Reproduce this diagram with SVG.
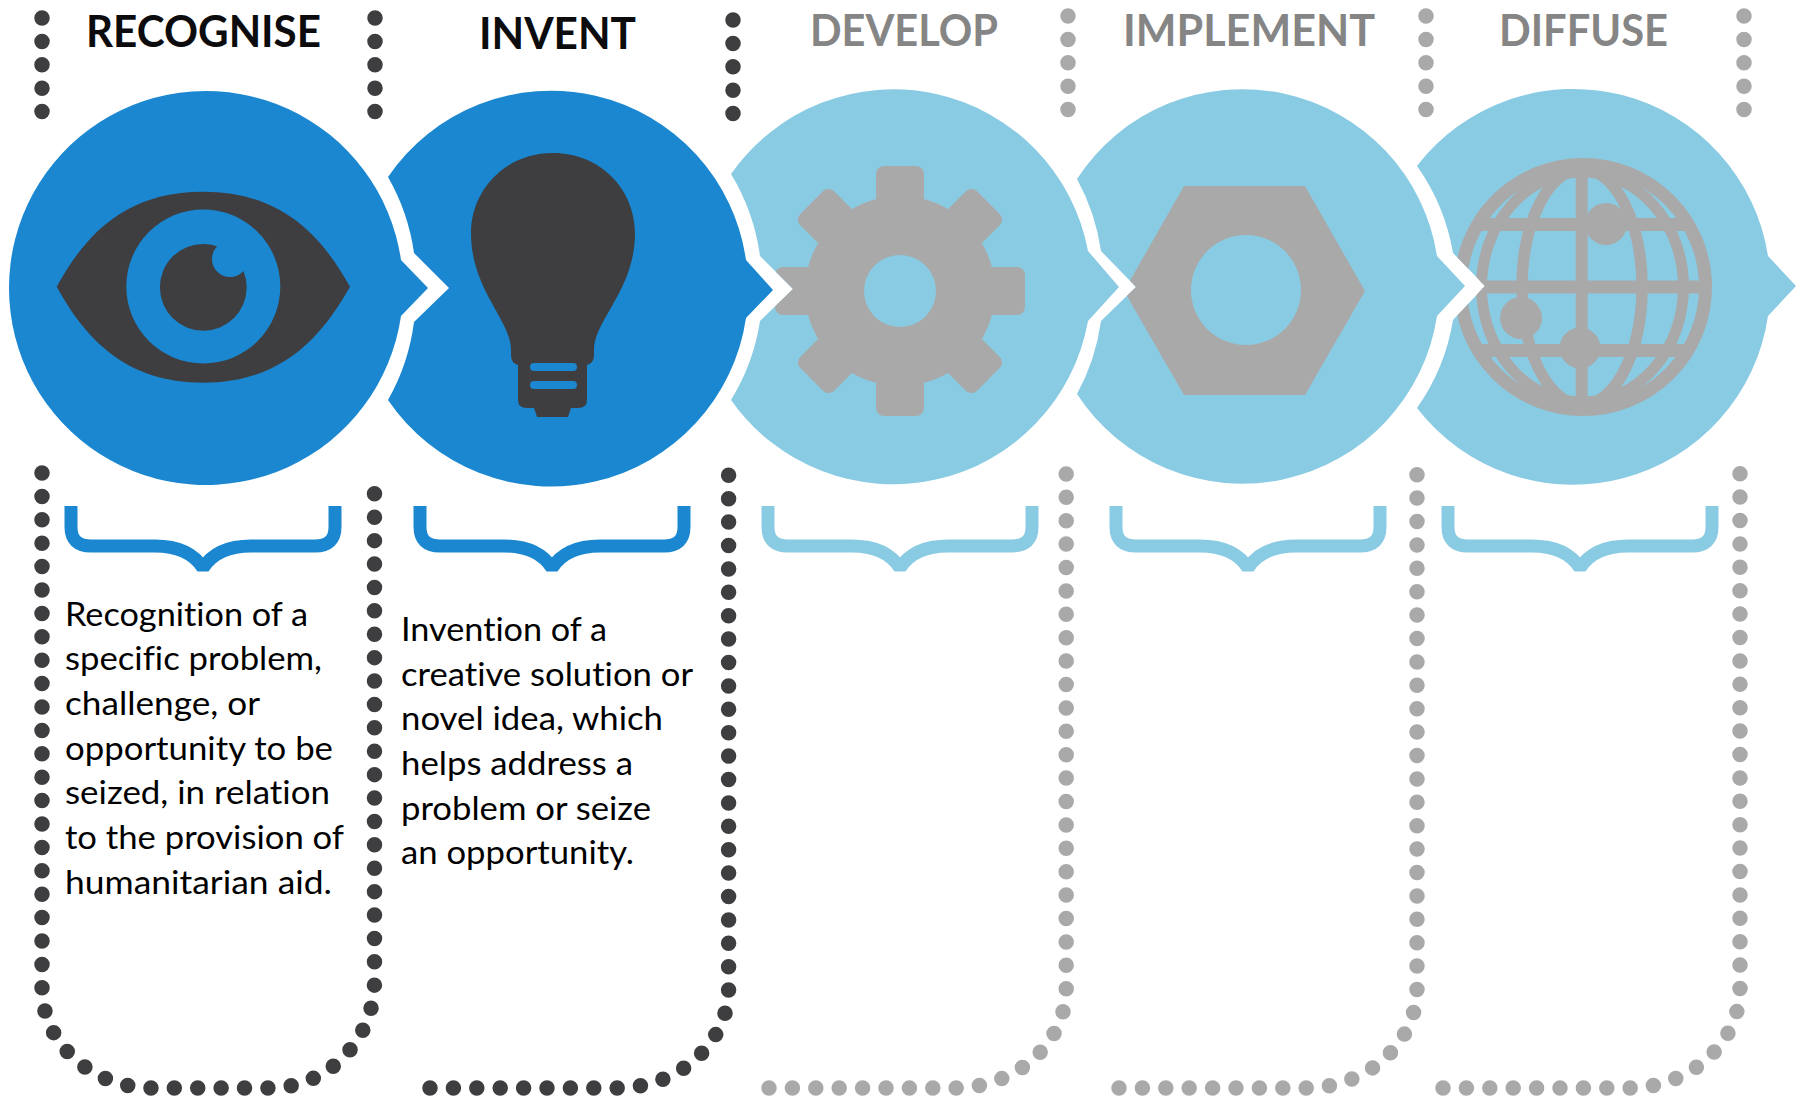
<svg xmlns="http://www.w3.org/2000/svg" width="1800" height="1096" viewBox="0 0 1800 1096">
<style>
text{font-family:"Lato","Open Sans","Liberation Sans",sans-serif;font-variant-ligatures:none}
.h{font-size:44px;font-weight:700}
.ha{fill:#0c0c0e}
.hb{fill:#858585}
.b{font-size:33px;fill:#000}
.dk{fill:#1a87d0}
.lt{fill:#8acbe4}
.ig{fill:#3e3e40}
.il{fill:#a9a9a9}
.brk{fill:none;stroke-width:13;stroke-linejoin:bevel}
.dot{fill:none;stroke-width:15.5;stroke-linecap:round;stroke-dasharray:0 23.4}
.dd{stroke:#3e3e40}
.dl{stroke:#a9a9a9}
.g{fill:none;stroke:#a9a9a9}
</style>
<defs>
<path id="b1" d="M401,260L428,288L401,316A197,197 0 1 1 401,260Z"/>
<path id="b2" d="M388,177A197,197 0 0 1 746,260L773,290L746,318A197,197 0 0 1 388,400A212,212 0 0 0 414,322L449,288L414,253A212,212 0 0 0 388,177Z"/>
<path id="b3" d="M731,174A198,198 0 0 1 1088,251L1119,287L1088,321A198,198 0 0 1 731,400A212,212 0 0 0 760,321L793,289L760,256A212,212 0 0 0 731,174Z"/>
<path id="b4" d="M1077,179A197,197 0 0 1 1437,256L1465,286L1437,316A197,197 0 0 1 1077,394A212,212 0 0 0 1101,321L1136,287L1101,251A212,212 0 0 0 1077,179Z"/>
<path id="b5" d="M1417,166A197,197 0 0 1 1768,256L1796,286L1768,316A197,197 0 0 1 1417,408A212,212 0 0 0 1453,320L1485,286L1453,253A212,212 0 0 0 1417,166Z"/>
<clipPath id="c3"><use href="#b3"/></clipPath>
<clipPath id="c4"><use href="#b4"/></clipPath>
<clipPath id="c5"><use href="#b5"/></clipPath>
<clipPath id="cg"><circle cx="1583" cy="287" r="125"/></clipPath>
<rect id="t" x="876" y="166" width="48" height="70" rx="8"/>
<path id="brace" d="M0,0V21Q0,40 20,40H84Q118,40 132,62Q146,40 180,40H244Q264,40 264,21V0"/>
</defs>

<g id="connectors">
<path class="dot dd" d="M42,18V113"/>
<path class="dot dd" d="M375,18V113"/>
<path class="dot dd" d="M733,20V115"/>
<path class="dot dl" d="M1068,16V111"/>
<path class="dot dl" d="M1426,16V111"/>
<path class="dot dl" d="M1744,16V111"/>
<path class="dot dd" d="M42,473V988A110.700,100 0 0 0 152.700,1088H270A104.500,107 0 0 0 374.500,981V489"/>
<path class="dot dd" d="M430,1088H617A111.600,100 0 0 0 728.600,988V473"/>
<path class="dot dl" d="M769,1088H954.600A111.600,100 0 0 0 1066.200,988V471"/>
<path class="dot dl" d="M1119,1088H1305.400A111.600,100 0 0 0 1417,988V471"/>
<path class="dot dl" d="M1443,1088H1628.400A111.600,100 0 0 0 1740,988V471"/>
</g>

<g id="node-diffuse">
<use href="#b5" class="lt"/>
<g clip-path="url(#c5)">
<circle class="g" cx="1583" cy="287" r="122.500" stroke-width="13"/>
<g clip-path="url(#cg)">
<ellipse class="g" cx="1582" cy="287" rx="60" ry="118" stroke-width="11.500"/>
<ellipse class="g" cx="1582.500" cy="287" rx="101" ry="115" stroke-width="11"/>
<path class="g" d="M1450,224.500H1716M1450,287H1716M1450,350.500H1716" stroke-width="13"/>
<path class="g" d="M1581.700,155V419" stroke-width="12"/>
</g>
<circle class="il" cx="1606" cy="224" r="21"/>
<circle class="il" cx="1521" cy="318" r="21"/>
<circle class="il" cx="1580" cy="348" r="20.500"/>
</g>
</g>

<g id="node-implement">
<use href="#b4" class="lt"/>
<g clip-path="url(#c4)">
<path class="il" fill-rule="evenodd" d="M1184,186H1305L1365,291L1305,395H1184L1124,291ZM1191,290a55,55 0 1 0 110,0a55,55 0 1 0 -110,0Z"/>
</g>
</g>

<g id="node-develop">
<use href="#b3" class="lt"/>
<g clip-path="url(#c3)" class="il">
<use href="#t"/>
<use href="#t" transform="rotate(45 900 291)"/>
<use href="#t" transform="rotate(90 900 291)"/>
<use href="#t" transform="rotate(135 900 291)"/>
<use href="#t" transform="rotate(180 900 291)"/>
<use href="#t" transform="rotate(225 900 291)"/>
<use href="#t" transform="rotate(270 900 291)"/>
<use href="#t" transform="rotate(315 900 291)"/>
<circle cx="900" cy="291" r="95"/>
</g>
<circle class="lt" cx="900" cy="291" r="36"/>
</g>

<g id="node-invent">
<use href="#b2" class="dk"/>
<path class="ig" d="M553,153C505,153 471,190 471,233C471,290 511,320 511,350V355Q511,363 518,365V400Q518,408 527,408H534L537,417H568L571,408H578Q587,408 587,400V365Q594,363 594,355V350C594,320 635,290 635,233C635,190 601,153 553,153Z"/>
<rect class="dk" x="530" y="363" width="47" height="8" rx="4"/>
<rect class="dk" x="530" y="381" width="47" height="8" rx="4"/>
</g>

<g id="node-recognise">
<use href="#b1" class="dk"/>
<path class="ig" d="M56.700,286.700C85,235 125,191.700 203,191.700C281,191.700 321,235 350,286.700C321,338 281,382.700 203,382.700C125,382.700 85,338 56.700,286.700Z"/>
<circle class="dk" cx="203.300" cy="286.500" r="77"/>
<circle class="ig" cx="203.300" cy="287.300" r="43.400"/>
<circle class="dk" cx="230" cy="259" r="18"/>
</g>

<g id="braces">
<use href="#brace" class="brk" stroke="#1a87d0" x="71" y="506"/>
<use href="#brace" class="brk" stroke="#1a87d0" x="420" y="506"/>
<use href="#brace" class="brk" stroke="#8acbe4" x="768" y="506"/>
<use href="#brace" class="brk" stroke="#8acbe4" x="1116" y="506"/>
<use href="#brace" class="brk" stroke="#8acbe4" x="1448" y="506"/>
</g>

<g id="headers">
<text class="h ha" x="86" y="47" textLength="235" lengthAdjust="spacingAndGlyphs">RECOGNISE</text>
<text class="h ha" x="479" y="49" textLength="157" lengthAdjust="spacingAndGlyphs">INVENT</text>
<text class="h hb" x="810" y="46" textLength="188" lengthAdjust="spacingAndGlyphs">DEVELOP</text>
<text class="h hb" x="1123" y="46" textLength="252" lengthAdjust="spacingAndGlyphs">IMPLEMENT</text>
<text class="h hb" x="1499" y="46" textLength="169" lengthAdjust="spacingAndGlyphs">DIFFUSE</text>
</g>

<g id="text-recognise">
<text class="b" x="65" y="626" textLength="243" lengthAdjust="spacingAndGlyphs">Recognition of a</text>
<text class="b" x="65" y="670" textLength="257" lengthAdjust="spacingAndGlyphs">specific problem,</text>
<text class="b" x="65" y="715" textLength="195" lengthAdjust="spacingAndGlyphs">challenge, or</text>
<text class="b" x="65" y="760" textLength="268" lengthAdjust="spacingAndGlyphs">opportunity to be</text>
<text class="b" x="65" y="804" textLength="265" lengthAdjust="spacingAndGlyphs">seized, in relation</text>
<text class="b" x="65" y="849" textLength="279" lengthAdjust="spacingAndGlyphs">to the provision of</text>
<text class="b" x="65" y="894" textLength="267" lengthAdjust="spacingAndGlyphs">humanitarian aid.</text>
</g>
<g id="text-invent">
<text class="b" x="401" y="641" textLength="206" lengthAdjust="spacingAndGlyphs">Invention of a</text>
<text class="b" x="401" y="686" textLength="292" lengthAdjust="spacingAndGlyphs">creative solution or</text>
<text class="b" x="401" y="730" textLength="262" lengthAdjust="spacingAndGlyphs">novel idea, which</text>
<text class="b" x="401" y="775" textLength="232" lengthAdjust="spacingAndGlyphs">helps address a</text>
<text class="b" x="401" y="820" textLength="250" lengthAdjust="spacingAndGlyphs">problem or seize</text>
<text class="b" x="401" y="864" textLength="233" lengthAdjust="spacingAndGlyphs">an opportunity.</text>
</g>
</svg>
